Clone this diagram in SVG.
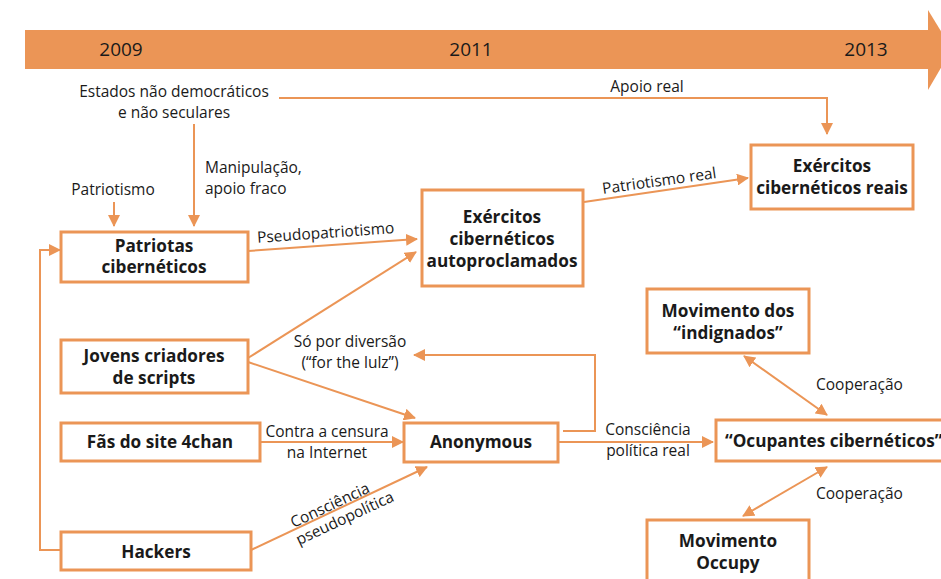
<svg xmlns="http://www.w3.org/2000/svg" width="941" height="579" viewBox="0 0 941 579">
<defs>
<marker id="ah" viewBox="0 0 12 12" refX="11" refY="6" markerWidth="12" markerHeight="12" markerUnits="userSpaceOnUse" orient="auto-start-reverse">
<path d="M0,0 L12,6 L0,12 z" fill="#EB9556"/>
</marker>
<style>
.box{fill:#fff;stroke:#EB9556;stroke-width:3}
.bt{font-family:"Open Sans","Noto Sans",sans-serif;font-weight:bold;font-size:17.2px;fill:#1a1a1a;text-anchor:middle}
.lt{font-family:"Open Sans","Noto Sans",sans-serif;font-size:15.5px;fill:#1a1a1a}
.yr{font-family:"Open Sans","Noto Sans",sans-serif;font-size:19px;fill:#1a1a1a;text-anchor:middle}
.c{fill:none;stroke:#EB9556;stroke-width:2}
.m{text-anchor:middle}
</style>
</defs>
<rect width="941" height="579" fill="#fff"/>
<g id="timeline">
<rect x="25" y="30" width="905" height="39" fill="#EB9556"/>
<polygon points="928,10 952,49 928,90" fill="#EB9556"/>
<text class="yr" x="121" y="56">2009</text>
<text class="yr" x="471" y="56">2011</text>
<text class="yr" x="866" y="56">2013</text>
</g>
<g id="connectors">
<path class="c" d="M279,98 H827 V134" marker-end="url(#ah)"/>
<path class="c" d="M194,124 V226" marker-end="url(#ah)"/>
<path class="c" d="M114,202 V226" marker-end="url(#ah)"/>
<path class="c" d="M248,251 L417,239" marker-end="url(#ah)"/>
<path class="c" d="M584,202 L748,178" marker-end="url(#ah)"/>
<path class="c" d="M248,358 L416,252" marker-end="url(#ah)"/>
<path class="c" d="M248,362 L415,418" marker-end="url(#ah)"/>
<path class="c" d="M260,442 L403,442" marker-end="url(#ah)"/>
<path class="c" d="M251,550 L427,467" marker-end="url(#ah)"/>
<path class="c" d="M61,550 H40 V250 H60" marker-end="url(#ah)"/>
<path class="c" d="M563,431 H595 V355 H414" marker-end="url(#ah)"/>
<path class="c" d="M558,442 H713" marker-end="url(#ah)"/>
<path class="c" d="M744,356 L827,415" marker-start="url(#ah)" marker-end="url(#ah)"/>
<path class="c" d="M827,467 L743,516" marker-start="url(#ah)" marker-end="url(#ah)"/>
<text class="lt m" x="647" y="92">Apoio real</text>
<text class="lt" x="205" y="173">Manipulação,</text>
<text class="lt" x="205" y="194">apoio fraco</text>
<text class="lt m" x="113" y="195">Patriotismo</text>
<text class="lt m" x="326" y="238" transform="rotate(-4 326 238)">Pseudopatriotismo</text>
<text class="lt m" x="660" y="186" transform="rotate(-8 660 186)">Patriotismo real</text>
<text class="lt m" x="350" y="347">Só por diversão</text>
<text class="lt m" x="350" y="368">(“for the lulz”)</text>
<text class="lt m" x="327" y="437">Contra a censura</text>
<text class="lt m" x="327" y="458">na Internet</text>
<g transform="translate(337,511) rotate(-25)">
<text class="lt m" x="-4" y="-3">Consciência</text>
<text class="lt m" x="4" y="15">pseudopolítica</text>
</g>
<text class="lt m" x="648" y="435">Consciência</text>
<text class="lt m" x="648" y="456">política real</text>
<text class="lt" x="816" y="390">Cooperação</text>
<text class="lt" x="816" y="499">Cooperação</text>
<text class="lt m" x="174" y="97">Estados não democráticos</text>
<text class="lt m" x="174" y="118">e não seculares</text>
</g>
<g id="patriotas">
<rect class="box" x="61" y="232" width="187" height="50"/>
<text class="bt" x="154" y="252">Patriotas</text>
<text class="bt" x="154" y="273">cibernéticos</text>
</g>
<g id="autoproclamados">
<rect class="box" x="422" y="190" width="161" height="96"/>
<text class="bt" x="502" y="223">Exércitos</text>
<text class="bt" x="502" y="245">cibernéticos</text>
<text class="bt" x="502" y="267">autoproclamados</text>
</g>
<g id="reais">
<rect class="box" x="751" y="145" width="162" height="64"/>
<text class="bt" x="832" y="172">Exércitos</text>
<text class="bt" x="832" y="194">cibernéticos reais</text>
</g>
<g id="jovens">
<rect class="box" x="61" y="340" width="187" height="53"/>
<text class="bt" x="154" y="362">Jovens criadores</text>
<text class="bt" x="154" y="384">de scripts</text>
</g>
<g id="fas">
<rect class="box" x="61" y="423" width="199" height="38"/>
<text class="bt" x="160" y="448">Fãs do site 4chan</text>
</g>
<g id="hackers">
<rect class="box" x="61" y="532" width="190" height="38"/>
<text class="bt" x="156" y="558">Hackers</text>
</g>
<g id="anonymous">
<rect class="box" x="404" y="423" width="154" height="39"/>
<text class="bt" x="481" y="448">Anonymous</text>
</g>
<g id="indignados">
<rect class="box" x="647" y="289" width="162" height="64"/>
<text class="bt" x="728" y="317">Movimento dos</text>
<text class="bt" x="728" y="339">“indignados”</text>
</g>
<g id="ocupantes">
<rect class="box" x="716" y="420" width="240" height="41"/>
<text class="bt" x="725" y="447" style="text-anchor:start">“Ocupantes cibernéticos”</text>
</g>
<g id="occupy">
<rect class="box" x="647" y="520" width="162" height="70"/>
<text class="bt" x="728" y="547">Movimento</text>
<text class="bt" x="728" y="569">Occupy</text>
</g>
</svg>
